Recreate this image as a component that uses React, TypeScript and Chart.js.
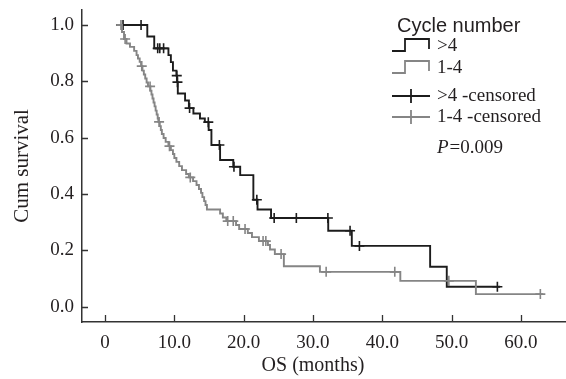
import React, { useEffect, useRef } from "react";
import { Chart, registerables } from "chart.js";

Chart.register(...registerables);

// ---- data ----
const xTickValues = [0, 10, 20, 30, 40, 50, 60];
const yTickValues = [0, 0.2, 0.4, 0.6, 0.8, 1.0];

// Group >4 cycles: event times (months) and survival after each event
const highTimes = [1.6, 6.1, 7.1, 9.15, 9.5, 9.8, 10.3, 10.4, 10.5, 11.55, 12.1, 12.75, 13.7, 14.4, 14.95, 15.35, 16.6, 18.5, 19.5, 21.4, 22.0, 23.95, 32.2, 35.6, 46.9, 49.3, 57.0];
const highSurv = [1.0, 0.959, 0.917, 0.893, 0.868, 0.838, 0.82, 0.797, 0.757, 0.732, 0.705, 0.686, 0.668, 0.655, 0.627, 0.574, 0.521, 0.497, 0.467, 0.38, 0.345, 0.315, 0.27, 0.216, 0.142, 0.071, 0.071];
const highCensored = [2.6, 5.2, 7.6, 7.9, 8.45, 10.35, 10.45, 12.2, 14.9, 16.5, 18.6, 21.9, 24.4, 27.6, 32.15, 35.35, 36.7, 56.6];

// Group 1-4 cycles
const lowTimes = [1.6, 2.45, 2.74, 3.1, 3.6, 4.2, 4.55, 4.75, 5.0, 5.2, 5.4, 5.6, 5.8, 6.0, 6.2, 6.55, 6.7, 6.85, 7.0, 7.15, 7.3, 7.45, 7.6, 7.7, 7.9, 8.05, 8.2, 8.45, 8.75, 9.15, 9.5, 9.8, 10.0, 10.3, 10.7, 11.1, 11.7, 12.1, 12.7, 13.2, 13.55, 13.85, 14.05, 14.3, 14.5, 14.7, 16.6, 17.0, 17.5, 18.9, 19.35, 20.6, 21.2, 22.2, 23.5, 23.8, 24.5, 25.8, 31.0, 42.6, 53.5, 63.2];
const lowSurv = [1.0, 0.975, 0.95, 0.934, 0.922, 0.908, 0.893, 0.881, 0.869, 0.854, 0.838, 0.824, 0.81, 0.796, 0.782, 0.767, 0.753, 0.739, 0.725, 0.711, 0.696, 0.682, 0.668, 0.656, 0.641, 0.627, 0.613, 0.599, 0.585, 0.57, 0.556, 0.542, 0.528, 0.514, 0.499, 0.485, 0.471, 0.459, 0.446, 0.432, 0.418, 0.404, 0.389, 0.375, 0.361, 0.345, 0.331, 0.317, 0.304, 0.29, 0.276, 0.262, 0.247, 0.233, 0.219, 0.203, 0.187, 0.144, 0.124, 0.092, 0.045, 0.045];
const lowCensored = [2.3, 2.9, 5.3, 6.5, 7.8, 9.3, 12.3, 17.7, 18.5, 20.2, 22.8, 23.2, 25.4, 31.9, 41.8, 49.6, 62.8];

const legendTitle = "Cycle number";
const legendLabels = [">4", "1-4", ">4 -censored", "1-4 -censored"];
const pValueText = "=0.009";

const BLACK = "#1c1c1c";
const GREY = "#858585";
const TEXT = "#231f20";

function survAt(times: number[], surv: number[], t: number) {
  let s = surv[0];
  for (let i = 0; i < times.length; i++) if (times[i] <= t) s = surv[i];
  return s;
}

const decorPlugin = {
  id: "decor",
  afterDraw(chart: any) {
    const ctx = chart.ctx as CanvasRenderingContext2D;
    const xs = chart.scales.x;
    const ys = chart.scales.y;
    const area = chart.chartArea;
    ctx.save();
    // inward tick marks
    ctx.strokeStyle = "#333";
    ctx.lineWidth = 1.3;
    ctx.beginPath();
    xTickValues.forEach((v) => {
      const px = Math.round(xs.getPixelForValue(v)) + 0.5;
      ctx.moveTo(px, area.bottom);
      ctx.lineTo(px, area.bottom - 7);
    });
    yTickValues.forEach((v) => {
      const py = Math.round(ys.getPixelForValue(v)) + 0.5;
      ctx.moveTo(area.left, py);
      ctx.lineTo(area.left + 6, py);
    });
    ctx.stroke();

    // axis titles
    ctx.fillStyle = TEXT;
    ctx.font = '20px "Liberation Serif"';
    ctx.textAlign = "center";
    ctx.textBaseline = "middle";
    ctx.fillText("OS (months)", xs.getPixelForValue(30), area.bottom + 44);
    ctx.save();
    ctx.translate(22, (area.top + area.bottom) / 2);
    ctx.rotate(-Math.PI / 2);
    ctx.font = '21px "Liberation Serif"';
    ctx.fillText("Cum survival", 0, 0);
    ctx.restore();

    // legend
    ctx.textAlign = "left";
    ctx.font = '20px "Liberation Sans"';
    ctx.fillText(legendTitle, 397, 26);
    const rows = [46, 68, 96, 117];
    const cols = [BLACK, GREY, BLACK, GREY];
    ctx.lineWidth = 1.8;
    rows.forEach((y, i) => {
      ctx.strokeStyle = cols[i];
      ctx.beginPath();
      if (i < 2) {
        ctx.moveTo(392, y + 5);
        ctx.lineTo(405, y + 5);
        ctx.lineTo(405, y - 7);
        ctx.lineTo(429, y - 7);
        ctx.lineTo(429, y + 3);
      } else {
        ctx.moveTo(392, y);
        ctx.lineTo(430, y);
        ctx.moveTo(411, y - 7);
        ctx.lineTo(411, y + 7);
      }
      ctx.stroke();
      ctx.font = '19px "Liberation Serif"';
      ctx.fillStyle = TEXT;
      ctx.fillText(legendLabels[i], 437, y);
    });
    ctx.font = 'italic 19px "Liberation Serif"';
    ctx.fillText("P", 437, 148);
    const pw = ctx.measureText("P").width;
    ctx.font = '19px "Liberation Serif"';
    ctx.fillText(pValueText, 437 + pw + 1, 148);
    ctx.restore();
  },
};

export default function App() {
  const ref = useRef<HTMLCanvasElement | null>(null);
  useEffect(() => {
    if (!ref.current) return;
    const highLine = highTimes.map((t, i) => ({ x: t, y: highSurv[i] }));
    const lowLine = lowTimes.map((t, i) => ({ x: t, y: lowSurv[i] }));
    const highMarks = highCensored.map((t) => ({ x: t, y: survAt(highTimes, highSurv, t) }));
    const lowMarks = lowCensored.map((t) => ({ x: t, y: survAt(lowTimes, lowSurv, t) }));
    const chart = new Chart(ref.current, {
      type: "line",
      data: {
        datasets: [
          { data: lowLine, borderColor: GREY, borderWidth: 1.9, stepped: "before", pointRadius: 0, fill: false },
          { data: highLine, borderColor: BLACK, borderWidth: 1.9, stepped: "before", pointRadius: 0, fill: false },
          { data: lowMarks, showLine: false, pointStyle: "cross", pointRadius: 5, borderColor: GREY, pointBorderWidth: 1.6, pointBorderColor: GREY },
          { data: highMarks, showLine: false, pointStyle: "cross", pointRadius: 5, borderColor: BLACK, pointBorderWidth: 1.6, pointBorderColor: BLACK },
        ] as any,
      },
      options: {
        animation: false,
        responsive: false,
        devicePixelRatio: 1,
        layout: { autoPadding: false, padding: { top: 10, right: 0, left: 0, bottom: 0 } },
        plugins: { legend: { display: false }, tooltip: { enabled: false } },
        scales: {
          x: {
            type: "linear",
            min: -3.32,
            max: 66.5,
            afterFit: (s: any) => {
              s.height = 57;
              s.paddingLeft = 0;
              s.paddingRight = 0;
            },
            afterBuildTicks: (s: any) => { s.ticks = xTickValues.map((v) => ({ value: v })); },
            grid: { display: true, drawOnChartArea: false, drawTicks: false },
            border: { display: true, color: "#333", width: 1.5 },
            ticks: {
              padding: 10,
              color: TEXT,
              font: { family: "Liberation Serif", size: 19 },
              callback: (v: any) => (Number(v) === 0 ? "0" : Number(v).toFixed(1)),
              maxRotation: 0,
              autoSkip: false,
            },
          },
          y: {
            type: "linear",
            min: -0.054,
            max: 1.053,
            afterFit: (s: any) => {
              s.width = 82;
              s.paddingTop = 0;
              s.paddingBottom = 0;
            },
            afterBuildTicks: (s: any) => { s.ticks = yTickValues.map((v) => ({ value: v })); },
            grid: { display: true, drawOnChartArea: false, drawTicks: false },
            border: { display: true, color: "#333", width: 1.5 },
            ticks: {
              padding: 8,
              color: TEXT,
              font: { family: "Liberation Serif", size: 19 },
              callback: (v: any) => Number(v).toFixed(1),
              autoSkip: false,
            },
          },
        },
      } as any,
      plugins: [decorPlugin],
    });
    return () => chart.destroy();
  }, []);
  return (
    <div style={{ position: "absolute", left: 0, top: 0, width: 566, height: 379, background: "#fff" }}>
      <canvas ref={ref} width={566} height={379} style={{ display: "block" }} />
    </div>
  );
}
